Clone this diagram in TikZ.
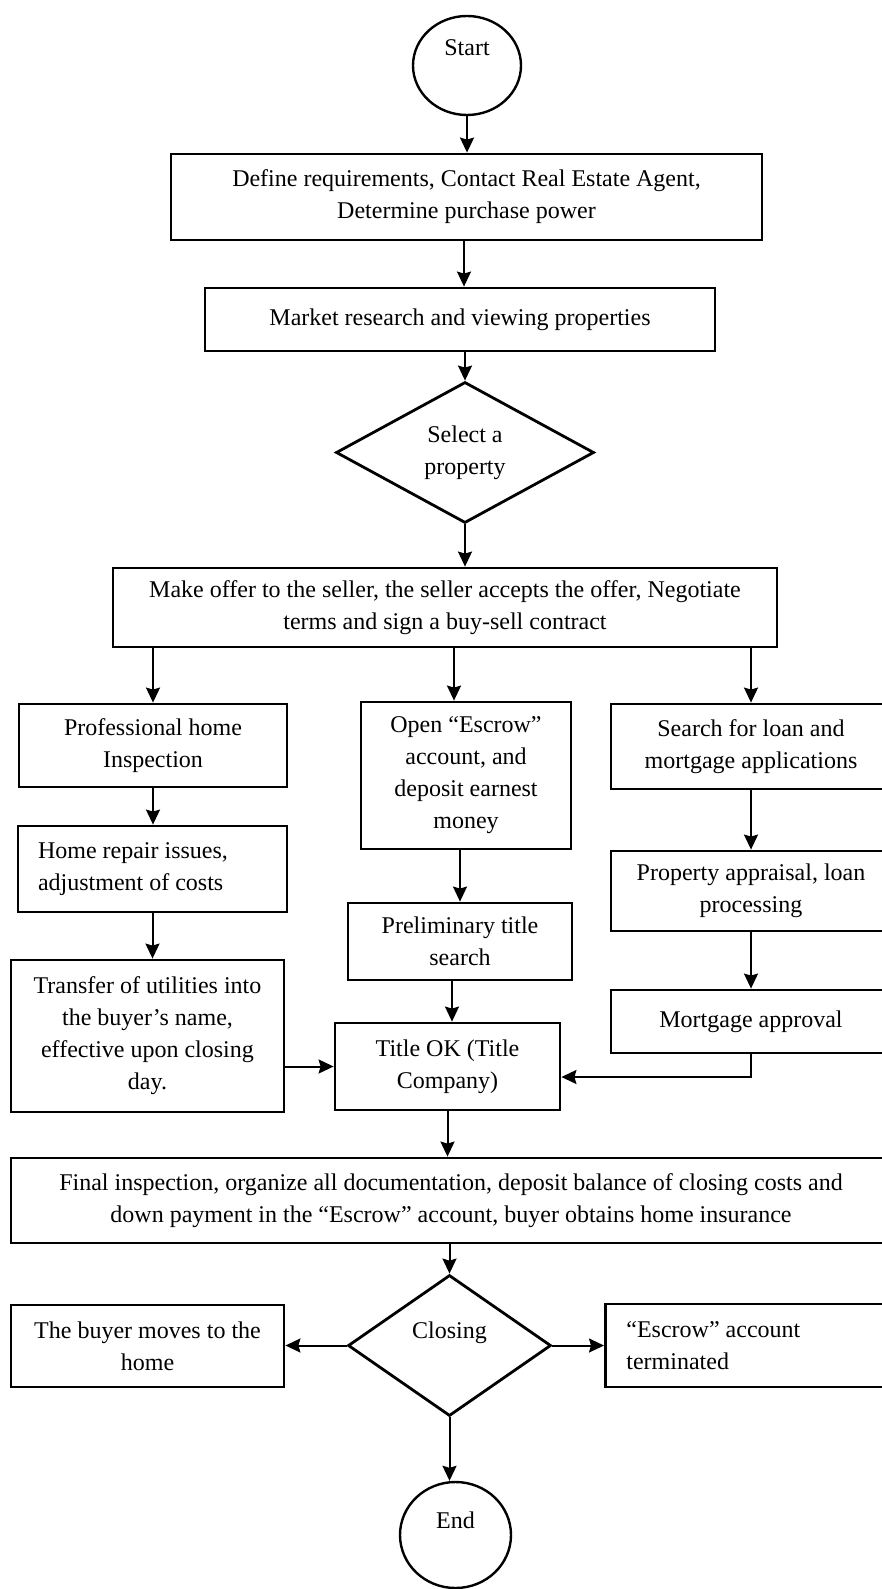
\documentclass[tikz,border=0pt]{standalone}
\usepackage{fontspec}
\setmainfont{Liberation Serif}
\usetikzlibrary{shapes.geometric,arrows.meta}
\begin{document}
\begin{tikzpicture}[x=1pt,y=-1pt,
  every node/.style={font=\fontsize{24}{32}\selectfont, inner sep=0pt, align=center},
  box/.style={draw, line width=2.8pt, rectangle},
  oval/.style={draw, line width=2.4pt, ellipse},
  decision/.style={draw, line width=2.8pt, diamond},
  flow/.style={line width=2pt, -{Stealth[length=15pt,width=14pt,inset=2pt]}},
]
\path[fill=white] (0,0) rectangle (881,1589);
\useasboundingbox (0,0) rectangle (881,1589);

% main column
\node[oval, minimum width=108pt, minimum height=99pt, text depth=35pt] (start) at (467,65.5) {Start};
\node[box, minimum width=591pt, minimum height=86pt] (define) at (466.5,197)
  {Define requirements, Contact Real Estate Agent,\\Determine purchase power};
\node[box, minimum width=510pt, minimum height=63pt] (market) at (460,319.5)
  {Market research and viewing properties};
\node[decision, aspect=1.83, minimum width=258pt, minimum height=141pt] (select) at (465,452.5)
  {Select a\\property};
\node[box, minimum width=664pt, minimum height=79pt] (offer) at (445,607.5)
  {Make offer to the seller, the seller accepts the offer, Negotiate\\terms and sign a buy-sell contract};

% left branch: inspection
\node[box, minimum width=268pt, minimum height=83pt] (inspect) at (153,745.5)
  {Professional home\\Inspection};
\node[box, align=flush left, text width=229pt, inner xsep=20pt, minimum height=86pt] (repair) at (152.5,869)
  {Home repair issues,\\adjustment of costs};
\node[box, minimum width=273pt, minimum height=152pt] (utilities) at (147.5,1036)
  {Transfer of utilities into\\the buyer’s name,\\effective upon closing\\day.};

% middle branch: escrow and title
\node[box, minimum width=210pt, minimum height=147pt] (escrow) at (466,775.5)
  {Open “Escrow”\\account, and\\deposit earnest\\money};
\node[box, minimum width=224pt, minimum height=77pt] (prelim) at (460,941.5)
  {Preliminary title\\search};
\node[box, minimum width=225pt, minimum height=87pt] (titleok) at (447.5,1066.5)
  {Title OK (Title\\Company)};

% right branch: financing
\node[box, minimum width=280pt, minimum height=85pt] (loan) at (751,746.5)
  {Search for loan and\\mortgage applications};
\node[box, minimum width=280pt, minimum height=80pt] (appraisal) at (751,891)
  {Property appraisal, loan\\processing};
\node[box, minimum width=280pt, minimum height=63pt] (approval) at (751,1021.5)
  {Mortgage approval};

% closing stage
\node[box, minimum width=880pt, minimum height=85pt] (final) at (451,1200.5)
  {Final inspection, organize all documentation, deposit balance of closing costs and\\down payment in the “Escrow” account, buyer obtains home insurance};
\node[decision, aspect=1.44, minimum width=203pt, minimum height=141pt, text depth=31pt] (closing) at (449.5,1345.5)
  {Closing};
\node[box, minimum width=273pt, minimum height=82pt] (moves) at (147.5,1346)
  {The buyer moves to the\\home};
\node[box, align=flush left, text width=245pt, inner xsep=21pt, minimum height=83pt, anchor=west] (terminated) at (604,1345.5)
  {“Escrow” account\\terminated};
\node[oval, minimum width=111pt, minimum height=106pt, text depth=30pt] (end) at (455.5,1535) {End};

% off-centre landing points
\coordinate (escin) at ([xshift=-12pt]escrow.north);
\coordinate (titin) at ([xshift=4.5pt]titleok.north);
\coordinate (titright) at ([yshift=-10.5pt]titleok.east);

% connectors
\draw[flow] (start.south) -- (start.south |- define.north);
\draw[flow] ([xshift=-2.5pt]define.south) -- ([xshift=-2.5pt]define.south |- market.north);
\draw[flow] (market.south -| select) -- (select.north);
\draw[flow] (select.south) -- (select.south |- offer.north);

\draw[flow] (offer.south -| inspect) -- (inspect.north);
\draw[flow] (escin |- offer.south) -- (escin);
\draw[flow] (offer.south -| loan) -- (loan.north);

\draw[flow] (inspect.south) -- (inspect.south |- repair.north);
\draw[flow] (repair.south) -- (repair.south |- utilities.north);

\draw[flow] (escrow.south -| prelim.north) -- (prelim.north);
\draw[flow] (titin |- prelim.south) -- (titin);

\draw[flow] (loan.south) -- (appraisal.north);
\draw[flow] (appraisal.south) -- (approval.north);
\draw[flow] (approval.south) |- (titright);
\draw[flow] (utilities.east |- titleok) -- (titleok.west);

\draw[flow] (titleok.south) -- (titleok.south |- final.north);
\draw[flow] (final.south -| closing) -- (closing.north);
\draw[flow] (closing.west) -- (closing.west -| moves.east);
\draw[flow] (closing.east) -- (closing.east -| terminated.west);
\draw[flow] (closing.south) -- (closing.south |- end.north);
\end{tikzpicture}
\end{document}
